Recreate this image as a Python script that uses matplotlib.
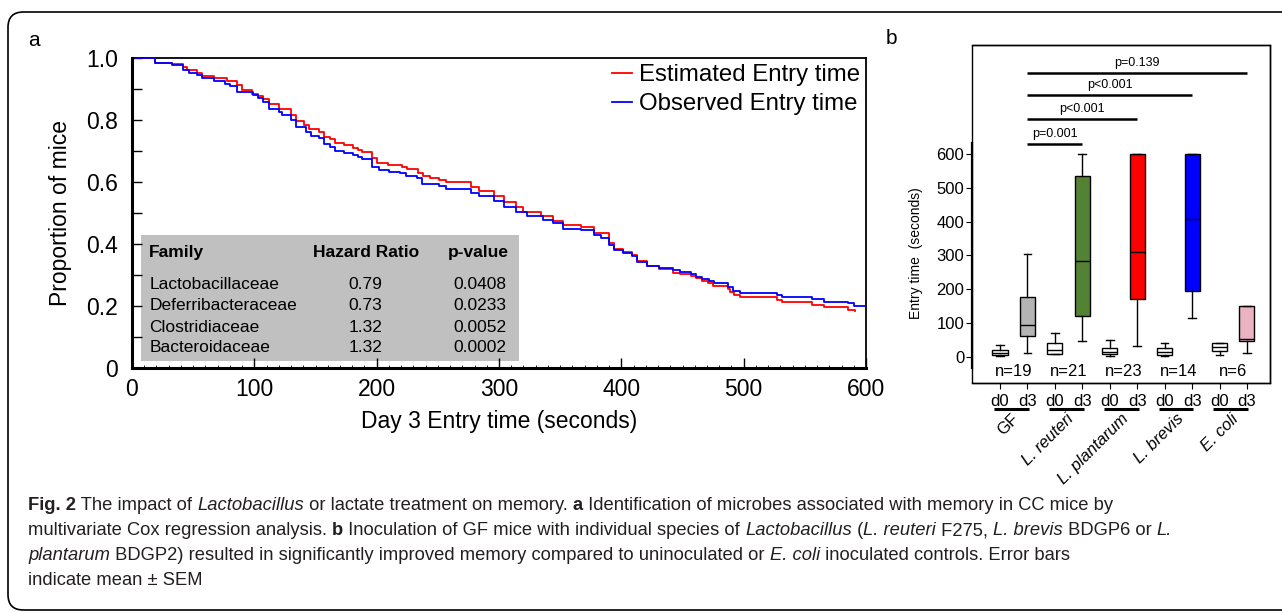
import numpy as np
import matplotlib
matplotlib.use("Agg")
import matplotlib.pyplot as plt
from matplotlib.patches import Rectangle, FancyBboxPatch

plt.rcParams['font.family'] = ['Liberation Sans', 'DejaVu Sans']

# ---- panel a: step curves (time in s, proportion of mice) ----
obs_t = [3, 19, 33, 42, 47, 53, 57, 67, 76, 80, 86, 99, 103, 107, 112, 120, 123, 130, 134, 142,
         146, 153, 157, 162, 166, 173, 181, 185, 188, 196, 202, 210, 219, 224, 233, 237, 251, 257,
         277, 284, 296, 304, 314, 323, 336, 344, 352, 367, 378, 383, 390, 394, 401, 409, 413, 421,
         431, 442, 448, 457, 461, 466, 472, 476, 487, 491, 497, 527, 531, 556, 566, 585, 590, 600]
obs_s = [1.0, 0.985, 0.976, 0.96, 0.952, 0.944, 0.935, 0.925, 0.917, 0.909, 0.89, 0.882, 0.871,
         0.858, 0.836, 0.826, 0.817, 0.8, 0.776, 0.762, 0.749, 0.741, 0.723, 0.714, 0.701, 0.693,
         0.687, 0.68, 0.673, 0.65, 0.639, 0.632, 0.628, 0.62, 0.612, 0.594, 0.587, 0.578, 0.565,
         0.555, 0.54, 0.518, 0.504, 0.491, 0.477, 0.467, 0.45, 0.445, 0.429, 0.418, 0.397, 0.381,
         0.372, 0.361, 0.343, 0.329, 0.322, 0.316, 0.309, 0.302, 0.295, 0.287, 0.282, 0.275, 0.262,
         0.248, 0.241, 0.236, 0.228, 0.222, 0.214, 0.209, 0.2, 0.0]

est_t = [3, 19, 33, 42, 45, 53, 57, 67, 78, 86, 90, 98, 103, 107, 112, 120, 130, 134, 141, 145,
         153, 157, 162, 166, 173, 181, 185, 188, 196, 200, 209, 221, 225, 234, 238, 244, 251, 257,
         277, 284, 296, 304, 314, 320, 334, 344, 352, 367, 378, 390, 394, 401, 409, 413, 421, 431,
         442, 448, 457, 461, 466, 471, 475, 487, 489, 492, 497, 527, 531, 556, 566, 585, 591]
est_s = [1.0, 0.985, 0.98, 0.971, 0.96, 0.952, 0.942, 0.935, 0.925, 0.912, 0.898, 0.885, 0.879,
         0.867, 0.853, 0.836, 0.815, 0.796, 0.785, 0.772, 0.762, 0.746, 0.738, 0.725, 0.718, 0.71,
         0.704, 0.697, 0.676, 0.662, 0.655, 0.647, 0.641, 0.628, 0.619, 0.612, 0.606, 0.6, 0.585,
         0.572, 0.555, 0.535, 0.518, 0.504, 0.49, 0.475, 0.461, 0.454, 0.434, 0.402, 0.385, 0.375,
         0.363, 0.345, 0.33, 0.319, 0.308, 0.303, 0.297, 0.29, 0.282, 0.273, 0.265, 0.254, 0.246,
         0.235, 0.228, 0.22, 0.212, 0.204, 0.196, 0.187, 0.183]

families = ['Lactobacillaceae', 'Deferribacteraceae', 'Clostridiaceae', 'Bacteroidaceae']
hazard = ['0.79', '0.73', '1.32', '1.32']
pvals = ['0.0408', '0.0233', '0.0052', '0.0002']

# ---- panel b: box stats per group (d0, d3) ----
groups = ['GF', 'L. reuteri', 'L. plantarum', 'L. brevis', 'E. coli']
group_n = ['n=19', 'n=21', 'n=23', 'n=14', 'n=6']
days = ['d0', 'd3']
whis_lo = [4, 12, 9, 47, 3, 33, 4, 115, 7, 13]
q1 = [7, 63, 10, 122, 9, 170, 7, 196, 17, 48]
med = [13, 93, 20, 285, 16, 309, 16, 408, 28, 53]
q3 = [21, 178, 41, 536, 27, 600, 25, 600, 40, 151]
whis_hi = [35, 303, 72, 600, 49, 600, 41, 600, 42, 151]
box_colors = ['white', '#b4b4b4', 'white', '#548235', 'white', '#ff0000',
              'white', '#0000ff', 'white', '#e9b3c1']
comparisons = [(1, 3, 'p=0.001', 628), (1, 5, 'p<0.001', 704),
               (1, 7, 'p<0.001', 773), (1, 9, 'p=0.139', 839)]

W, H = 1282, 613
fig = plt.figure(figsize=(W / 100, H / 100), dpi=100)

# background axes for border, panel letters and caption
ax0 = fig.add_axes([0, 0, 1, 1])
ax0.axis('off')
ax0.set_xlim(0, 1)
ax0.set_ylim(0, 1)
border = FancyBboxPatch((8 / W, 3 / H), 1.2, 1 - 15 / H, boxstyle='round,pad=0,rounding_size=0.012',
                        transform=ax0.transAxes, fill=False, edgecolor='black', lw=1.2,
                        mutation_aspect=W / H)
ax0.add_patch(border)
ax0.text(28 / W, 1 - 40 / H, 'a', fontsize=15, va='center', ha='left')
ax0.text(886 / W, 1 - 38 / H, 'b', fontsize=15, va='center', ha='left')

# ---------------- panel a ----------------
ax1 = fig.add_axes([132 / W, 1 - 368 / H, (866 - 132) / W, (368 - 58) / H])
ax1.step(est_t, est_s, where='post', color='red', lw=1.3, label='Estimated Entry time', zorder=3)
ax1.step(obs_t, obs_s, where='post', color='blue', lw=1.3, label='Observed Entry time', zorder=3)
ax1.set_xlim(0, 600)
ax1.set_ylim(0, 1.0)
ax1.set_xticks(np.arange(0, 601, 100))
ax1.set_xticks(np.arange(0, 601, 10), minor=True)
ax1.set_yticks(np.arange(0, 1.01, 0.2))
ax1.set_yticklabels(['0', '0.2', '0.4', '0.6', '0.8', '1.0'])
ax1.set_yticks(np.arange(0.1, 1.0, 0.2), minor=True)
ax1.tick_params(which='major', direction='in', length=7, width=1, labelsize=16.5, pad=10)
ax1.tick_params(axis='x', which='major', pad=7)
ax1.tick_params(axis='y', which='minor', direction='in', length=7, width=1)
ax1.tick_params(axis='x', which='minor', direction='in', length=2, width=0.6)
for s in ['left', 'bottom']:
    ax1.spines[s].set_linewidth(2.2)
for s in ['top', 'right']:
    ax1.spines[s].set_linewidth(1.3)
ax1.set_xlabel('Day 3 Entry time (seconds)', fontsize=16.5, labelpad=7)
ax1.set_ylabel('Proportion of mice', fontsize=16.5, labelpad=10)
ax1.legend(loc='upper right', frameon=False, fontsize=17.3, handlelength=0.8, handletextpad=0.3,
           labelspacing=0.3, borderaxespad=0.05, borderpad=0.2)

# hazard table
ax1.add_patch(Rectangle((7, 0.023), 309, 0.406, facecolor='#c0c0c0', edgecolor='none', zorder=1))
ax1.text(14, 0.374, 'Family', fontsize=12.5, fontweight='bold', va='center', ha='left')
ax1.text(191, 0.374, 'Hazard Ratio', fontsize=12.5, fontweight='bold', va='center', ha='center')
ax1.text(308, 0.374, 'p-value', fontsize=12.5, fontweight='bold', va='center', ha='right')
row_y = [0.268, 0.2, 0.132, 0.065]
for fam, hr, pv, y in zip(families, hazard, pvals, row_y):
    ax1.text(14, y, fam, fontsize=12.5, va='center', ha='left')
    ax1.text(191, y, hr, fontsize=12.5, va='center', ha='center')
    ax1.text(306, y, pv, fontsize=12.5, va='center', ha='right')

# ---------------- panel b ----------------
ax2 = fig.add_axes([972 / W, 1 - 383 / H, 298 / W, 338 / H])
positions = np.arange(len(med))
stats = []
for i in range(len(med)):
    stats.append({'whislo': whis_lo[i], 'q1': q1[i], 'med': med[i], 'q3': q3[i],
                  'whishi': whis_hi[i], 'fliers': []})
bp = ax2.bxp(stats, positions=positions, widths=0.55, patch_artist=True, showfliers=False,
             boxprops=dict(edgecolor='black', lw=1),
             medianprops=dict(color='black', lw=1),
             whiskerprops=dict(color='black', lw=1),
             capprops=dict(color='black', lw=1), capwidths=0.28)
for patch, c in zip(bp['boxes'], box_colors):
    patch.set_facecolor(c)

ax2.set_xlim(-1.02, 9.84)
ax2.set_ylim(-77, 922)
ax2.set_yticks(np.arange(0, 601, 100))
ax2.set_xticks(positions)
ax2.set_xticklabels(days * len(groups))
ax2.tick_params(axis='y', direction='out', length=4, labelsize=12, pad=1.5)
ax2.tick_params(axis='x', direction='out', length=4, labelsize=12, pad=4)
for s in ax2.spines.values():
    s.set_linewidth(1)
ax2.spines['left'].set_bounds(-33, 632)
ax2.spines['left'].set_linewidth(1.6)
ax2.add_patch(Rectangle((0, 0), 1, 1, transform=ax2.transAxes, fill=False, edgecolor='black',
                        lw=1, clip_on=False))
ax2.set_ylabel('Entry time  (seconds)', fontsize=10)
ax2.yaxis.set_label_coords(-0.165, 0.385)

for x1, x2, txt, y in comparisons:
    ax2.plot([x1, x2], [y, y], color='black', lw=1.8, solid_capstyle='butt')
    ax2.text((x1 + x2) / 2, y + 12, txt, fontsize=9, ha='center', va='bottom')

for i, n in enumerate(group_n):
    ax2.text(2 * i + 0.5, -44, n, fontsize=12, ha='center', va='center')
    ax2.plot([2 * i - 0.22, 2 * i + 1.05], [-153, -153], color='black', lw=2.2,
             clip_on=False, solid_capstyle='butt')
    style = 'normal' if groups[i] == 'GF' else 'italic'
    ax2.text(2 * i + 0.6, -175, groups[i], fontsize=12, style=style, rotation=45,
             rotation_mode='anchor', ha='right', va='center', clip_on=False)

# ---------------- caption ----------------
cap_font = ['Liberation Sans', 'DejaVu Sans']
cap_lines = [
    [('Fig. 2', 'b'), (' The impact of ', 'n'), ('Lactobacillus', 'i'),
     (' or lactate treatment on memory. ', 'n'), ('a', 'b'),
     (' Identification of microbes associated with memory in CC mice by', 'n')],
    [('multivariate Cox regression analysis. ', 'n'), ('b', 'b'),
     (' Inoculation of GF mice with individual species of ', 'n'), ('Lactobacillus', 'i'),
     (' (', 'n'), ('L. reuteri', 'i'), (' F275, ', 'n'), ('L. brevis', 'i'),
     (' BDGP6 or ', 'n'), ('L.', 'i')],
    [('plantarum', 'i'), (' BDGP2) resulted in significantly improved memory compared to uninoculated or ', 'n'),
     ('E. coli', 'i'), (' inoculated controls. Error bars', 'n')],
    [('indicate mean \u00b1 SEM', 'n')],
]
for k, line in enumerate(cap_lines):
    y = 1 - (514 + 25 * k) / H
    prev = None
    for seg, st in line:
        kw = dict(fontsize=13.2, family=cap_font, va='bottom', ha='left',
                  fontweight='bold' if st == 'b' else 'normal',
                  style='italic' if st == 'i' else 'normal', color='#231f20')
        if prev is None:
            prev = ax0.text(28 / W, y, seg, transform=ax0.transAxes, **kw)
        else:
            prev = ax0.annotate(seg, xy=(1, 0), xycoords=prev, **kw)

fig.savefig('out.png', dpi=100)
